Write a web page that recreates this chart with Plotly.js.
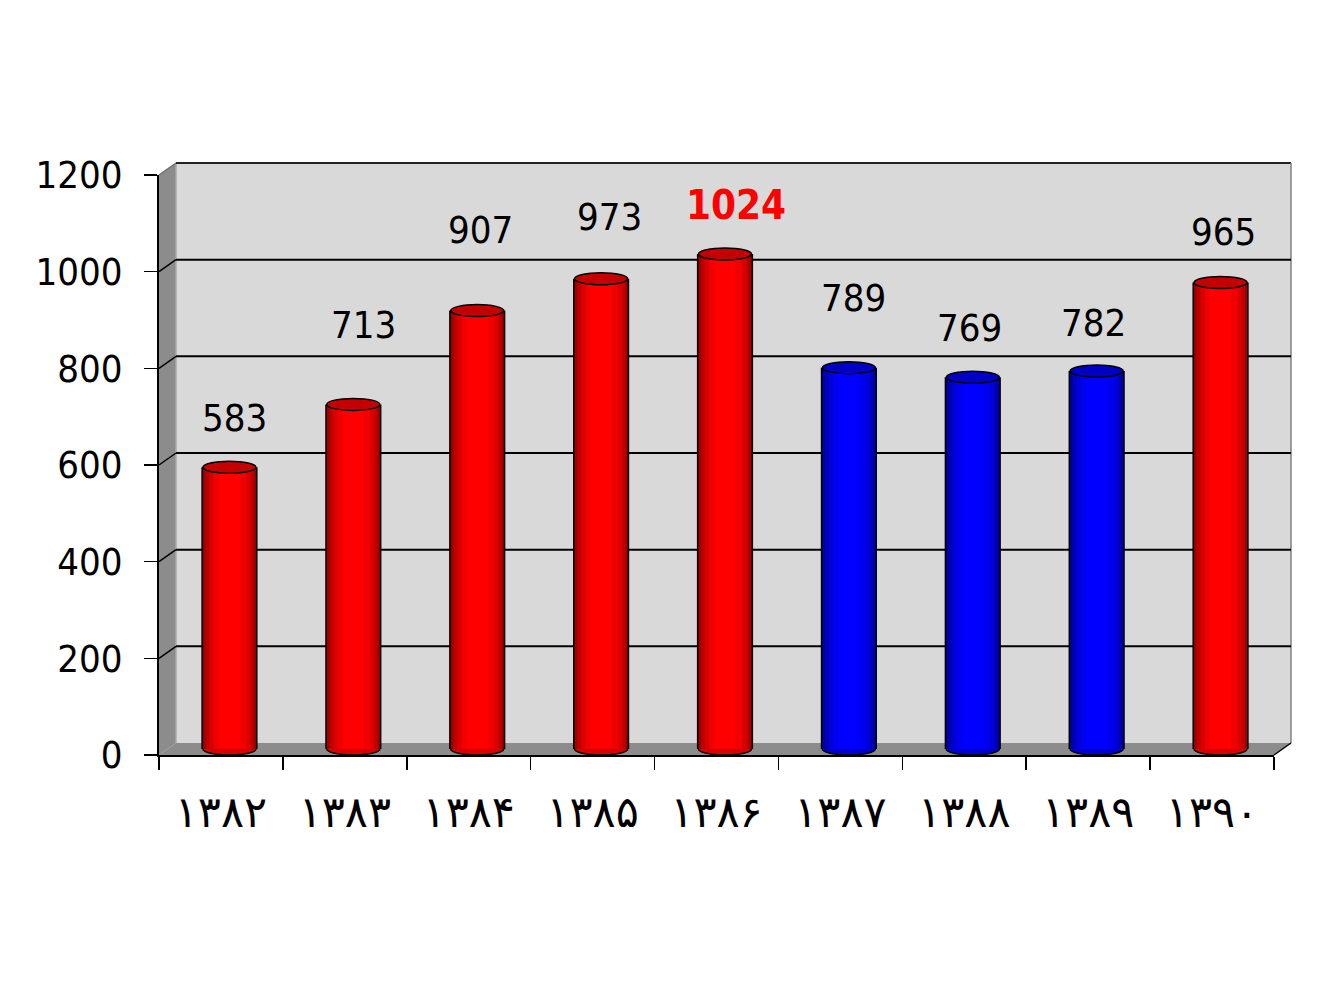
<!DOCTYPE html>
<html>
<head>
<meta charset="utf-8">
<script src="https://cdn.plot.ly/plotly-3.0.1.min.js"></script>
<style>html,body{margin:0;padding:0;background:#fff;}#chart{width:1339px;height:1000px;}</style>
</head>
<body>
<div id="chart"></div>
<script>
// ---- data ----
const years = ['۱۳۸۲','۱۳۸۳','۱۳۸۴','۱۳۸۵','۱۳۸۶','۱۳۸۷','۱۳۸۸','۱۳۸۹','۱۳۹۰'];
const values = [583, 713, 907, 973, 1024, 789, 769, 782, 965];
const yTicks = [0, 200, 400, 600, 800, 1000, 1200];
const blueYears = ['۱۳۸۷','۱۳۸۸','۱۳۸۹'];

// ---- layout geometry (pixels) ----
const L = 159, R = 1291, T = 163, B = 755, DX = 17, DY = 12;
const WP = R - L, HP = B - T;
const YMAX = 1200;
const SCALE = (HP - DY) / YMAX; // px per unit
const px = x => (x - L) / WP;
const py = y => (B - y) / HP;
const frontY = v => B - v * SCALE;
const backY = v => frontY(v) - DY;

// label placement tweaks (pixels): horizontal shift and height above bar top
const labelDx = [5, 10, 3, 8, 11, 5, -3, -3, 3];
const labelDy = [49, 79, 81, 62, 49, 70, 49, 48, 51];

const BW = 0.428; // bar width in category units
const redShades = ['#000000', '#9c0000', '#bc0000', '#d80000', '#f00000', '#ff0000'];
const blueShades = ['#000000', '#00009c', '#0000bc', '#0000d8', '#0000f0', '#0000ff'];
const bands = [[-0.03, 1.03], [0, 1], [0.05, 0.96], [0.12, 0.9], [0.2, 0.82], [0.3, 0.7]];
const isBlue = years.map(y => blueYears.includes(y));

const traces = [];
traces.push({
  type: 'scatter', x: years, y: values, xaxis: 'x', yaxis: 'y',
  mode: 'markers', marker: {opacity: 0}, hoverinfo: 'skip', showlegend: false
});
bands.forEach((b, k) => {
  traces.push({
    type: 'bar', x: years, y: values, xaxis: 'x2', yaxis: 'y2',
    width: (b[1] - b[0]) * BW, offset: -BW / 2 + b[0] * BW,
    marker: {color: isBlue.map(f => f ? blueShades[k] : redShades[k]), line: {width: 0}},
    hoverinfo: 'skip', showlegend: false
  });
});

const shapes = [];
const paper = {xref: 'paper', yref: 'paper', layer: 'below'};
shapes.push(Object.assign({type: 'rect', x0: px(L + DX), x1: px(R), y0: py(B - DY), y1: py(T),
  fillcolor: '#d9d9d9', line: {width: 0}}, paper));
shapes.push(Object.assign({type: 'path',
  path: `M ${px(L)} ${py(B)} L ${px(L)} ${py(frontY(YMAX))} L ${px(L + DX)} ${py(T)} L ${px(L + DX)} ${py(B - DY)} Z`,
  fillcolor: '#8c8c8c', line: {width: 0}}, paper));
shapes.push(Object.assign({type: 'path',
  path: `M ${px(L)} ${py(B)} L ${px(L + DX)} ${py(B - DY)} L ${px(R)} ${py(B - DY)} L ${px(R - DX)} ${py(B)} Z`,
  fillcolor: '#8c8c8c', line: {width: 0}}, paper));
shapes.push(Object.assign({type: 'line', x0: px(L + DX), x1: px(L + DX), y0: py(B - DY), y1: py(T),
  line: {color: '#a8a8a8', width: 1.5}}, paper));
shapes.push(Object.assign({type: 'line', x0: px(L), y0: py(frontY(YMAX)), x1: px(L + DX), y1: py(T),
  line: {color: '#6e6e6e', width: 1.5}}, paper));
shapes.push(Object.assign({type: 'line', x0: px(L + DX), x1: px(R), y0: py(T), y1: py(T),
  line: {color: '#222', width: 2}}, paper));
shapes.push(Object.assign({type: 'line', x0: px(R), x1: px(R), y0: py(T), y1: py(B - DY),
  line: {color: '#808080', width: 1.5}}, paper));
shapes.push(Object.assign({type: 'line', x0: px(R - DX), y0: py(B), x1: px(R), y1: py(B - DY),
  line: {color: '#000', width: 1.5}}, paper));
yTicks.filter(v => v > 0 && v < YMAX).forEach(v => {
  shapes.push(Object.assign({type: 'line', x0: px(L + DX), x1: px(R), y0: py(backY(v)), y1: py(backY(v)),
    line: {color: '#000', width: 2}}, paper));
  shapes.push(Object.assign({type: 'line', x0: px(L), y0: py(frontY(v)), x1: px(L + DX), y1: py(backY(v)),
    line: {color: '#000', width: 1.5}}, paper));
});
values.forEach((v, i) => {
  const base = {type: 'circle', xref: 'x2', yref: 'y2', x0: i - BW / 2, x1: i + BW / 2,
    ysizemode: 'pixel', y0: -6, y1: 6};
  shapes.push(Object.assign({}, base, {yanchor: 0, layer: 'below',
    fillcolor: isBlue[i] ? '#0000d0' : '#d80000', line: {color: '#000', width: 1.5}}));
  shapes.push(Object.assign({}, base, {yanchor: v, layer: 'above',
    fillcolor: isBlue[i] ? '#0000c4' : '#c40000', line: {color: '#000', width: 1.5}}));
});

const vmax = Math.max(...values);
const annotations = values.map((v, i) => ({
  x: years[i], y: v, xref: 'x2', yref: 'y2',
  text: v === vmax ? '<b>' + v + '</b>' : String(v), showarrow: false,
  xanchor: 'center', yanchor: 'middle', xshift: labelDx[i], yshift: labelDy[i],
  font: v === vmax
    ? {family: 'DejaVu Sans Condensed, DejaVu Sans, sans-serif', size: 40, color: '#ff0000'}
    : {family: 'DejaVu Sans Condensed, DejaVu Sans, sans-serif', size: 38, color: '#000'}
}));

const y2Bottom = -(DY / 2) / SCALE; // extends the bar subplot to the front edge so cylinder bases are not clipped

const layout = {
  width: 1339, height: 1000,
  margin: {l: L, r: 1339 - R, t: T, b: 1000 - B, pad: 0},
  paper_bgcolor: '#ffffff', plot_bgcolor: 'rgba(0,0,0,0)',
  barmode: 'overlay', showlegend: false,
  xaxis: {
    domain: [0, px(R - DX)], type: 'category', categoryorder: 'array', categoryarray: years,
    range: [-0.5, years.length - 0.5], tickson: 'boundaries', ticks: 'outside', ticklen: 13,
    tickwidth: 1.5, tickcolor: '#000', showline: true, linecolor: '#000', linewidth: 2,
    showgrid: false, zeroline: false, fixedrange: true, ticklabelstandoff: 18,
    tickfont: {family: 'DejaVu Sans, sans-serif', size: 43, color: '#000'}, anchor: 'y'
  },
  yaxis: {
    domain: [0, py(frontY(YMAX))], range: [0, YMAX], tickvals: yTicks, ticktext: yTicks.map(String),
    ticks: 'outside', ticklen: 13, tickwidth: 1.5, tickcolor: '#000',
    showline: true, linecolor: '#000', linewidth: 2, showgrid: false, zeroline: false,
    fixedrange: true, ticklabelstandoff: 14,
    tickfont: {family: 'DejaVu Sans Condensed, DejaVu Sans, sans-serif', size: 38, color: '#000'}, anchor: 'x'
  },
  xaxis2: {
    domain: [px(L + DX / 2), px(R - DX / 2)], type: 'category', categoryorder: 'array', categoryarray: years,
    range: [-0.5, years.length - 0.5], visible: false, anchor: 'y2', fixedrange: true
  },
  yaxis2: {
    domain: [0, (HP - DY / 2) / HP], range: [y2Bottom, YMAX], visible: false, anchor: 'x2', fixedrange: true
  },
  shapes: shapes,
  annotations: annotations
};

Plotly.newPlot('chart', traces, layout, {displayModeBar: false, staticPlot: true});
</script>
</body>
</html>
